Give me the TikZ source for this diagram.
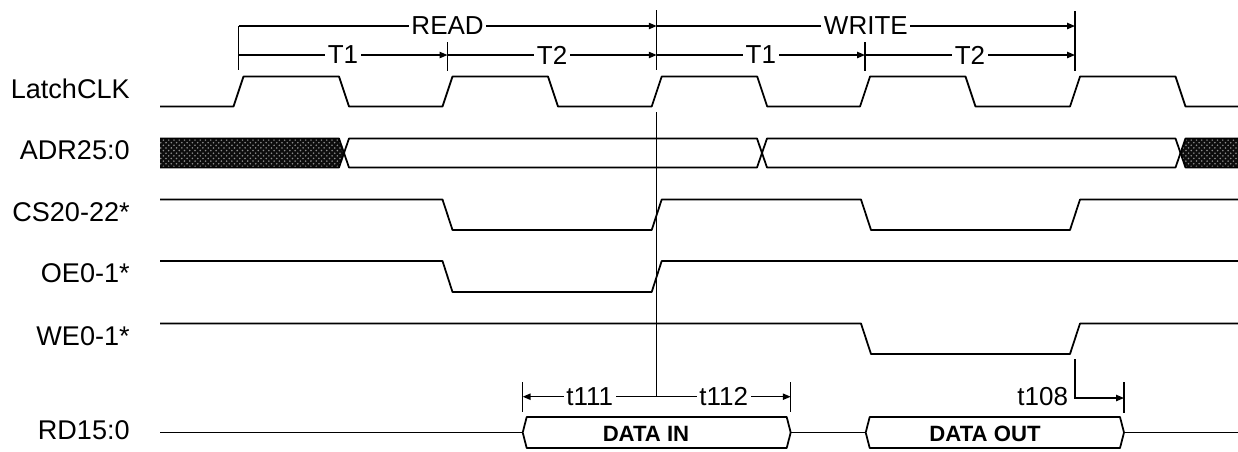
\documentclass[tikz,border=0pt]{standalone}
\usepackage{fontspec}
\setmainfont{Liberation Sans}
\usetikzlibrary{arrows.meta,patterns}

\tikzset{
    sig/.style={line width=1pt, line join=round},
    bar/.style={line width=0.7pt},
    tip/.style={-{Triangle[length=4.5pt,width=3.6pt]}},
    lbl/.style={fill=white, inner sep=1.5pt, font=\fontsize{14.8}{16}\selectfont},
    signame/.style={anchor=east, inner sep=0pt, font=\fontsize{15.4}{17}\selectfont},
    datalbl/.style={inner sep=0pt, font=\fontsize{12.6}{14}\selectfont\bfseries},
    hatch/.style={sig, preaction={fill=black!95}, pattern=crosshatch dots, pattern color=black!45}
}

\begin{document}
\begin{tikzpicture}[x=0.02cm, y=-0.02cm]
    
    \useasboundingbox (0,0) rectangle (1238,451);
    
    % signal names
    \foreach \t/\y/\n in {LatchCLK/88.5/clk, ADR25:0/150/adr, CS20-22*/212/cs, OE0-1*/273.5/oe, WE0-1*/336/we, RD15:0/430/rd} {
        \node[signame] (\n) at (130,\y) {\t};
    }
    
    % cycle brackets
    \draw[bar] (238.5,26) to (238.5,70);
    \draw[bar] (656.7,10) to (656.7,70);
    \draw[bar] (1075,11) to (1075,71);
    \draw[bar] (447.5,42) to (447.5,71);
    \draw[bar] (865,42) to (865,71);
    \draw[bar,tip] (238.5,26) to node[lbl] (read) {READ} (656.7,26);
    \draw[bar,tip] (656.7,26) to node[lbl] (write) {WRITE} (1075,26);
    \foreach \a/\b/\t/\n in {238.5/447.5/T1/ra, 447.5/656.7/T2/rb, 656.7/865/T1/wa, 865/1075/T2/wb} {
        \draw[bar,tip] (\a,55) to node[lbl] (\n) {\t} (\b,55);
    }
    
    % LatchCLK
    \draw[sig] (160,106.5) foreach \r in {238.5,447.5,656.7,865,1075} {
        -- (\r-5,106.5) -- (\r+5,76.5) -- (\r+100.5,76.5) -- (\r+110.5,106.5)
    } -- (1238,106.5);
    
    % ADR25:0
    \draw[hatch] (160,138.5) -- (339,138.5) -- (344,153) -- (339,167.5) -- (160,167.5);
    \draw[sig] (344,153) -- (349,138.5) -- (757,138.5) -- (762,153) -- (757,167.5) -- (349,167.5) -- cycle;
    \draw[sig] (762,153) -- (767,138.5) -- (1175.5,138.5) -- (1180.5,153) -- (1175.5,167.5) -- (767,167.5) -- cycle;
    \draw[hatch] (1238,138.5) -- (1185.5,138.5) -- (1180.5,153) -- (1185.5,167.5) -- (1238,167.5);
    
    % CS20-22*
    \draw[sig] (160,199.5) -- (442.5,199.5) -- (452.5,230) -- (651.7,230) -- (661.7,199.5)
        -- (861,199.5) -- (871,230) -- (1070,230) -- (1080,199.5) -- (1238,199.5);
    
    % OE0-1*
    \draw[sig] (160,261) -- (442.5,261) -- (452.5,292) -- (651.7,292) -- (661.7,261) -- (1238,261);
    
    % WE0-1*
    \draw[sig] (160,323.5) -- (861,323.5) -- (871,354) -- (1070,354) -- (1080,323.5) -- (1238,323.5);
    
    % RD15:0
    \draw[sig] (160,432.5) -- (522.7,432.5);
    \draw[sig] (522.7,432.5) -- (526.7,417) -- (786.7,417) -- (790.7,432.5) -- (786.7,448) -- (526.7,448) -- cycle;
    \draw[sig] (790.7,432.5) -- (865.7,432.5);
    \draw[sig] (865.7,432.5) -- (869.7,417) -- (1120,417) -- (1124,432.5) -- (1120,448) -- (869.7,448) -- cycle;
    \draw[sig] (1124,432.5) -- (1238,432.5);
    \node[datalbl] (din) at (646,434) {DATA IN};
    \node[datalbl] (dout) at (985,434) {DATA OUT};
    
    % timing marks
    \draw[bar] (656.7,112) to (656.7,396.7);
    \draw[bar] (522.7,382) to (522.7,412);
    \draw[bar] (790.7,382) to (790.7,412);
    \draw[bar,tip] (656.7,396.7) to node[lbl] (t111) {t111} (522.7,396.7);
    \draw[bar,tip] (656.7,396.7) to node[lbl] (t112) {t112} (790.7,396.7);
    \draw[bar,tip] (1075,359) |- (1124,398);
    \draw[bar] (1124,382) to (1124,413);
    \node[lbl, fill=none, anchor=east] (t108) at (1071,397) {t108};
    
\end{tikzpicture}
\end{document}
